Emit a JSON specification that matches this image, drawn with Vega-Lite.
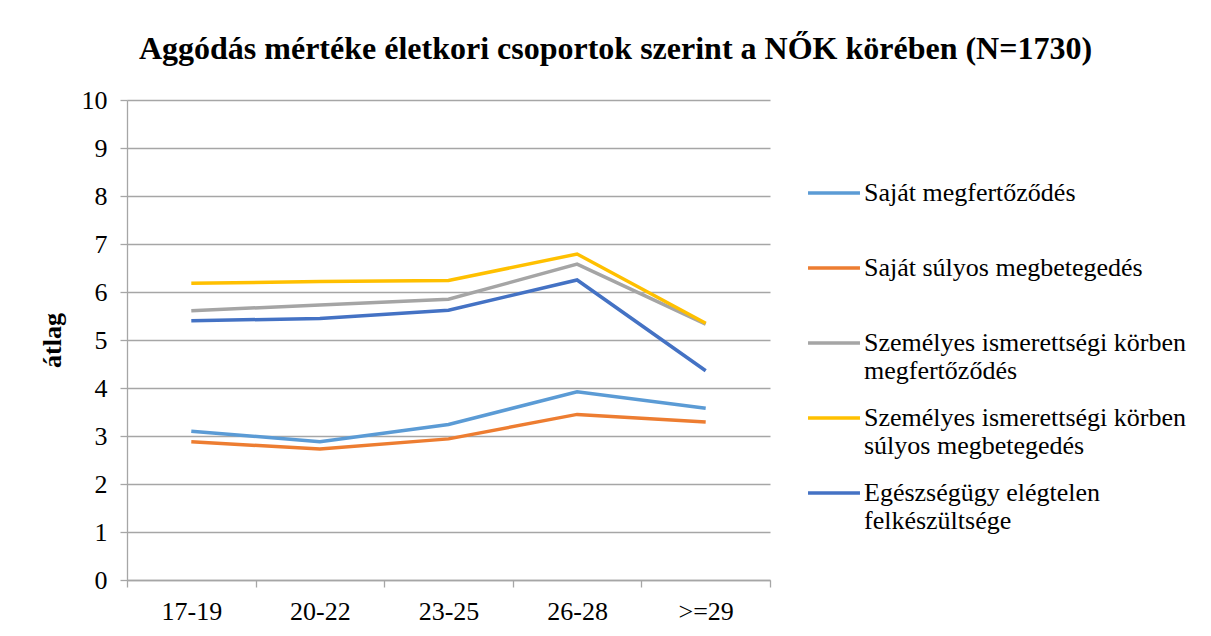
{
  "$schema": "https://vega.github.io/schema/vega-lite/v6.json",
  "width": 643,
  "height": 480,
  "autosize": {"type": "none"},
  "padding": {"left": 127, "top": 100, "right": 441, "bottom": 56},
  "background": "white",
  "title": {
    "text": "Aggódás mértéke életkori csoportok szerint a NŐK körében (N=1730)",
    "font": "Liberation Serif",
    "fontSize": 32,
    "fontWeight": "bold",
    "color": "#000000",
    "anchor": "middle",
    "frame": "group",
    "dx": 167,
    "offset": 21
  },
  "config": {
    "view": {"stroke": null},
    "font": "Liberation Serif",
    "axis": {"labelFont": "Liberation Serif", "titleFont": "Liberation Serif"},
    "legend": {"labelFont": "Liberation Serif"}
  },
  "data": {
    "values": [
      {"age": "17-19", "series": "Saját megfertőződés", "value": 3.10},
      {"age": "20-22", "series": "Saját megfertőződés", "value": 2.88},
      {"age": "23-25", "series": "Saját megfertőződés", "value": 3.24},
      {"age": "26-28", "series": "Saját megfertőződés", "value": 3.92},
      {"age": ">=29", "series": "Saját megfertőződés", "value": 3.58},
      {"age": "17-19", "series": "Saját súlyos megbetegedés", "value": 2.88},
      {"age": "20-22", "series": "Saját súlyos megbetegedés", "value": 2.73},
      {"age": "23-25", "series": "Saját súlyos megbetegedés", "value": 2.94},
      {"age": "26-28", "series": "Saját súlyos megbetegedés", "value": 3.45},
      {"age": ">=29", "series": "Saját súlyos megbetegedés", "value": 3.29},
      {"age": "17-19", "series": "Személyes ismerettségi körben megfertőződés", "value": 5.61},
      {"age": "20-22", "series": "Személyes ismerettségi körben megfertőződés", "value": 5.73},
      {"age": "23-25", "series": "Személyes ismerettségi körben megfertőződés", "value": 5.85},
      {"age": "26-28", "series": "Személyes ismerettségi körben megfertőződés", "value": 6.58},
      {"age": ">=29", "series": "Személyes ismerettségi körben megfertőződés", "value": 5.33},
      {"age": "17-19", "series": "Személyes ismerettségi körben súlyos megbetegedés", "value": 6.18},
      {"age": "20-22", "series": "Személyes ismerettségi körben súlyos megbetegedés", "value": 6.22},
      {"age": "23-25", "series": "Személyes ismerettségi körben súlyos megbetegedés", "value": 6.24},
      {"age": "26-28", "series": "Személyes ismerettségi körben súlyos megbetegedés", "value": 6.79},
      {"age": ">=29", "series": "Személyes ismerettségi körben súlyos megbetegedés", "value": 5.35},
      {"age": "17-19", "series": "Egészségügy elégtelen felkészültsége", "value": 5.40},
      {"age": "20-22", "series": "Egészségügy elégtelen felkészültsége", "value": 5.45},
      {"age": "23-25", "series": "Egészségügy elégtelen felkészültsége", "value": 5.62},
      {"age": "26-28", "series": "Egészségügy elégtelen felkészültsége", "value": 6.25},
      {"age": ">=29", "series": "Egészségügy elégtelen felkészültsége", "value": 4.36}
    ]
  },
  "mark": {"type": "line", "strokeWidth": 3.5, "strokeCap": "butt", "strokeJoin": "miter"},
  "encoding": {
    "x": {
      "field": "age",
      "type": "nominal",
      "sort": ["17-19", "20-22", "23-25", "26-28", ">=29"],
      "scale": {"type": "band", "paddingInner": 0, "paddingOuter": 0},
      "axis": {
        "title": null,
        "labelAngle": 0,
        "labelFont": "Liberation Serif",
        "labelFontSize": 26,
        "labelColor": "#000000",
        "labelPadding": 11,
        "domainColor": "#a6a6a6",
        "domainWidth": 1.3,
        "tickColor": "#a6a6a6",
        "tickWidth": 1.3,
        "tickSize": 7,
        "tickBand": "extent",
        "grid": false
      }
    },
    "y": {
      "field": "value",
      "type": "quantitative",
      "scale": {"domain": [0, 10], "nice": false, "zero": true},
      "axis": {
        "title": "átlag",
        "titleFont": "Liberation Serif",
        "titleFontSize": 26,
        "titleFontWeight": "bold",
        "titleColor": "#000000",
        "titlePadding": 16,
        "values": [0, 1, 2, 3, 4, 5, 6, 7, 8, 9, 10],
        "labelFont": "Liberation Serif",
        "labelFontSize": 26,
        "labelColor": "#000000",
        "labelPadding": 13,
        "domainColor": "#a6a6a6",
        "domainWidth": 1.3,
        "tickColor": "#a6a6a6",
        "tickWidth": 1.3,
        "tickSize": 7,
        "gridColor": "#a6a6a6",
        "gridWidth": 1.3
      }
    },
    "color": {
      "field": "series",
      "type": "nominal",
      "scale": {
        "domain": ["Saját megfertőződés", "Saját súlyos megbetegedés", "Személyes ismerettségi körben megfertőződés", "Személyes ismerettségi körben súlyos megbetegedés", "Egészségügy elégtelen felkészültsége"],
        "range": ["#5b9bd5", "#ed7d31", "#a5a5a5", "#ffc000", "#4472c4"]
      },
      "legend": {
        "title": null,
        "orient": "none",
        "legendX": 679,
        "legendY": 65,
        "direction": "vertical",
        "symbolType": "stroke",
        "symbolSize": 2700,
        "symbolStrokeWidth": 3.5,
        "labelFont": "Liberation Serif",
        "labelFontSize": 26,
        "labelColor": "#000000",
        "labelLimit": 500,
        "labelOffset": 2,
        "labelBaseline": "middle",
        "rowPadding": 6,
        "labelExpr": "datum.label == 'Személyes ismerettségi körben megfertőződés' ? ['Személyes ismerettségi körben', 'megfertőződés'] : datum.label == 'Személyes ismerettségi körben súlyos megbetegedés' ? ['Személyes ismerettségi körben', 'súlyos megbetegedés'] : datum.label == 'Egészségügy elégtelen felkészültsége' ? ['Egészségügy elégtelen', 'felkészültsége'] : [datum.label, '']"
      }
    }
  }
}
